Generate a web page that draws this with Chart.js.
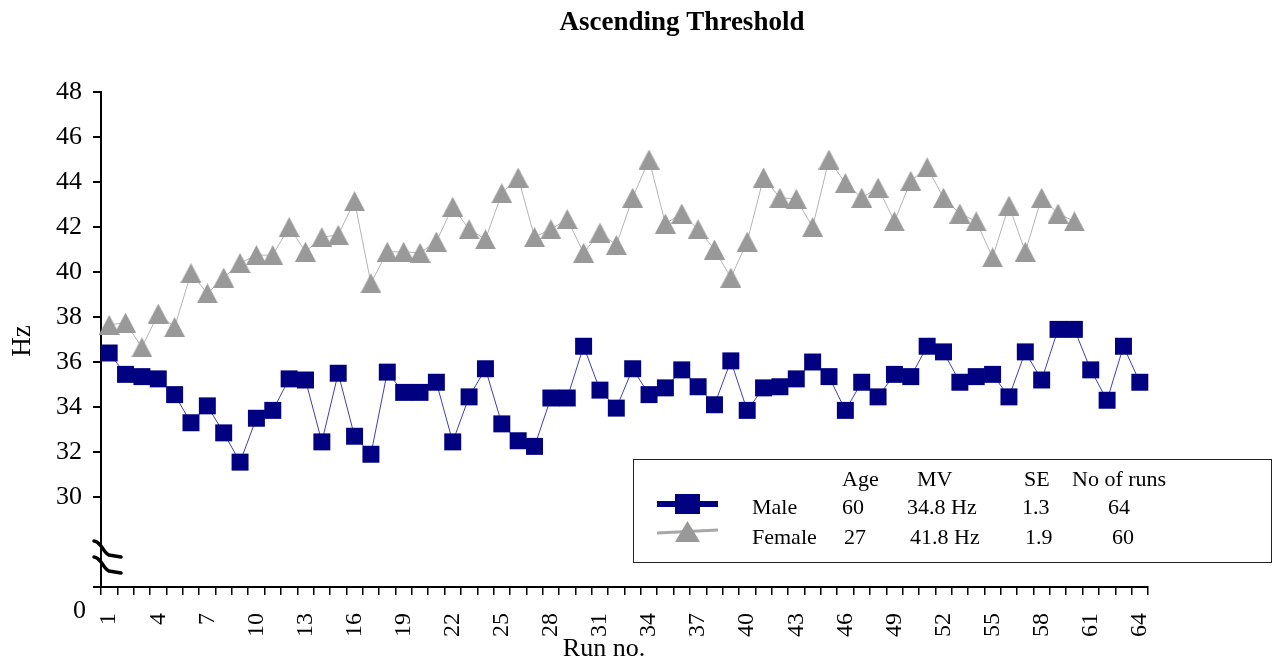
<!DOCTYPE html>
<html>
<head>
<meta charset="utf-8">
<title>Ascending Threshold</title>
<script src="https://cdn.jsdelivr.net/npm/chart.js@4"></script>
<style>
  html, body { margin: 0; padding: 0; background: #fff; }
  #wrap { width: 1274px; height: 664px; }
</style>
</head>
<body>
<div id="wrap"><canvas id="chart" width="1274" height="664"></canvas></div>
<script>
// run numbers on the x axis
const runs = ['1','2','3','4','5','6','7','8','9','10','11','12','13','14','15','16',
  '17','18','19','20','21','22','23','24','25','26','27','28','29','30','31','32',
  '33','34','35','36','37','38','39','40','41','42','43','44','45','46','47','48',
  '49','50','51','52','53','54','55','56','57','58','59','60','61','62','63','64'];

// Hz per run
const male = [36.4, 35.45, 35.35, 35.25, 34.55, 33.3, 34.05, 32.85, 31.55, 33.5,
  33.85, 35.25, 35.2, 32.45, 35.5, 32.7, 31.9, 35.55, 34.65, 34.65,
  35.1, 32.45, 34.45, 35.7, 33.25, 32.5, 32.25, 34.4, 34.4, 36.7,
  34.75, 33.95, 35.7, 34.55, 34.85, 35.65, 34.9, 34.1, 36.05, 33.85,
  34.85, 34.9, 35.25, 36.0, 35.35, 33.85, 35.1, 34.45, 35.45, 35.35,
  36.7, 36.45, 35.1, 35.35, 35.45, 34.45, 36.45, 35.2, 37.45, 37.45,
  35.65, 34.3, 36.7, 35.1];

const female = [37.65, 37.75, 36.65, 38.15, 37.55, 39.95, 39.05, 39.75, 40.4, 40.75,
  40.75, 42.0, 40.9, 41.55, 41.65, 43.15, 39.5, 40.9, 40.9, 40.85,
  41.35, 42.9, 41.9, 41.45, 43.5, 44.2, 41.55, 41.9, 42.35, 40.85,
  41.75, 41.2, 43.3, 45.0, 42.15, 42.6, 41.9, 41.0, 39.75, 41.35,
  44.2, 43.3, 43.25, 42.0, 45.0, 43.95, 43.3, 43.75, 42.25, 44.05,
  44.65, 43.3, 42.6, 42.25, 40.65, 42.95, 40.9, 43.3, 42.6, 42.25];

// y ticks; the bottom one stands for the broken-off 0
const yTicks = [26, 30, 32, 34, 36, 38, 40, 42, 44, 46, 48];

// legend table
const legendHead = ['Age', 'MV', 'SE', 'No of runs'];
const legendRows = [
  ['Male', '60', '34.8 Hz', '1.3', '64'],
  ['Female', '27', '41.8 Hz', '1.9', '60']
];

const NAVY = '#000080';
const GREY = '#999999';
const SERIF = "'Liberation Serif', 'Times New Roman', serif";

function triangleImg(w, h, color){
  const c = document.createElement('canvas');
  c.width = w; c.height = h;
  const g = c.getContext('2d');
  g.fillStyle = color;
  g.beginPath();
  g.moveTo(w / 2, 0);
  g.lineTo(w, h);
  g.lineTo(0, h);
  g.closePath();
  g.fill();
  return c;
}
const tri = triangleImg(21, 20, GREY);

const decor = {
  id: 'decor',
  afterDraw(chart){
    const ctx = chart.ctx;
    ctx.save();
    ctx.fillStyle = '#000';
    ctx.textBaseline = 'middle';

    // title
    ctx.font = 'bold 27px ' + SERIF;
    ctx.textAlign = 'center';
    ctx.fillText('Ascending Threshold', 682, 23);

    // axis titles
    ctx.font = '26px ' + SERIF;
    ctx.fillText('Run no.', 604, 649);
    ctx.save();
    ctx.translate(23, 341);
    ctx.rotate(-Math.PI / 2);
    ctx.font = '27px ' + SERIF;
    ctx.fillText('Hz', 0, 0);
    ctx.restore();

    // the 0 under the axis break
    ctx.textAlign = 'right';
    ctx.font = '26px ' + SERIF;
    ctx.fillText('0', 86, 611);

    // break marks
    ctx.strokeStyle = '#000';
    ctx.lineWidth = 3.5;
    ctx.lineCap = 'round';
    [0, 16].forEach(dy => {
      ctx.beginPath();
      ctx.moveTo(94, 541 + dy);
      ctx.bezierCurveTo(102, 542 + dy, 103, 553 + dy, 109, 555 + dy);
      ctx.lineTo(121, 557 + dy);
      ctx.stroke();
    });

    // legend box
    ctx.lineWidth = 1;
    ctx.strokeStyle = '#222';
    ctx.strokeRect(633.5, 459.5, 638, 103);

    ctx.fillStyle = NAVY;
    ctx.fillRect(657, 501, 61, 6);
    ctx.fillRect(675, 494, 25, 20);
    ctx.strokeStyle = '#a8a8a8';
    ctx.lineWidth = 3;
    ctx.lineCap = 'butt';
    ctx.beginPath();
    ctx.moveTo(657, 533);
    ctx.lineTo(718, 530);
    ctx.stroke();
    ctx.drawImage(triangleImg(25, 21, GREY), 675, 521);

    ctx.fillStyle = '#000';
    ctx.textAlign = 'left';
    ctx.font = '22px ' + SERIF;
    const headX = [842, 917, 1024, 1072];
    legendHead.forEach((t, i) => ctx.fillText(t, headX[i], 480));
    const rowX = [[752, 842, 907, 1022, 1108], [752, 844, 910, 1025, 1112]];
    const rowY = [508, 538];
    legendRows.forEach((r, j) => r.forEach((t, i) => ctx.fillText(t, rowX[j][i], rowY[j])));
    ctx.restore();
  }
};

new Chart(document.getElementById('chart'), {
  type: 'line',
  data: {
    labels: runs,
    datasets: [
      {
        label: 'Male', data: male,
        borderColor: '#4040aa', borderWidth: 1, tension: 0,
        pointStyle: 'rect', pointRadius: 12, pointHoverRadius: 12,
        pointBackgroundColor: NAVY, pointBorderWidth: 0
      },
      {
        label: 'Female', data: female,
        borderColor: '#b4b4b4', borderWidth: 1, tension: 0,
        pointStyle: tri, pointRadius: 12,
        pointBackgroundColor: GREY, pointBorderWidth: 0
      }
    ]
  },
  options: {
    responsive: false,
    animation: false,
    events: [],
    layout: { padding: { top: 92, right: 126, bottom: 0, left: 0 } },
    plugins: { legend: { display: false }, title: { display: false }, tooltip: { enabled: false } },
    scales: {
      x: {
        type: 'category',
        offset: true,
        grid: { offset: true, drawOnChartArea: false, tickLength: 8, color: '#000', lineWidth: 1.5 },
        border: { color: '#000', width: 2 },
        ticks: {
          autoSkip: false, minRotation: 90, maxRotation: 90, padding: 18,
          color: '#000', font: { family: SERIF, size: 24 },
          callback: (v, i) => (i % 3 === 0 ? runs[i] : '')
        },
        afterFit: s => { s.height = 77; }
      },
      y: {
        min: 26, max: 48,
        afterBuildTicks: s => { s.ticks = yTicks.map(v => ({ value: v })); },
        grid: { drawOnChartArea: false, tickLength: 8, color: '#000', lineWidth: 2 },
        border: { color: '#000', width: 2 },
        ticks: {
          padding: 11, color: '#000', font: { family: SERIF, size: 26 },
          callback: v => (v === 26 ? '' : v)
        },
        afterFit: s => { s.width = 101; }
      }
    }
  },
  plugins: [decor]
});
</script>
</body>
</html>
